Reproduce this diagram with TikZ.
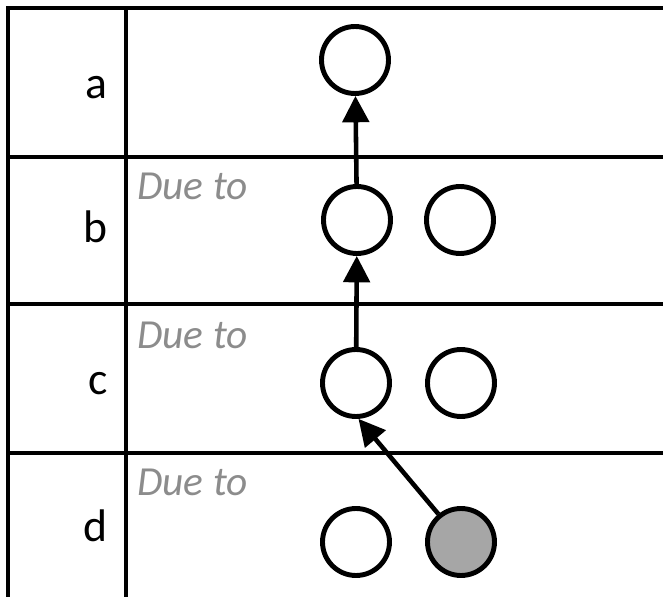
\documentclass[tikz,border=0pt]{standalone}
\usepackage{fontspec}
\setmainfont{Carlito}
\usetikzlibrary{arrows.meta}
\definecolor{duegray}{HTML}{8C8C8C}
\definecolor{causegray}{HTML}{A6A6A6}

\begin{document}
\begin{tikzpicture}[x=0.02cm, y=-0.02cm,
grid/.style={line width=2pt},
event/.style={circle, draw, line width=2.8pt, minimum size=1.34cm, inner sep=0pt},
cause/.style={event, fill=causegray},
link/.style={line width=2.6pt, -{Triangle[length=15pt, width=15pt]}},
rowlabel/.style={anchor=base east, inner sep=0pt, font=\fontsize{26}{26}\selectfont},
dueto/.style={anchor=base west, inner sep=0pt, text=duegray, font=\itshape\fontsize{23.5}{23.5}\selectfont}]
\useasboundingbox (0,0) rectangle (663,597);
% table
\draw[grid] (8,597) -- (8,8) -- (663,8);
\draw[grid] (126,8) -- (126,597);
\foreach \y in {157,304,453}
	\draw[grid] (8,\y) -- (663,\y);
% row labels
\node[rowlabel] (la) at (108,99) {a};
\node[rowlabel] (lb) at (108,243) {b};
\node[rowlabel] (lc) at (108,395) {c};
\node[rowlabel] (ld) at (108,542) {d};
\node[dueto] (db) at (137,200) {Due to};
\node[dueto] (dc) at (137,349) {Due to};
\node[dueto] (dd) at (137,496) {Due to};
% events
\node[event] (a) at (355,60) {};
\node[event] (bl) at (357,220) {};
\node[event] (br) at (460,220) {};
\node[event] (cl) at (356,383) {};
\node[event] (cr) at (461,383) {};
\node[event] (dl) at (356,542) {};
\node[cause] (dr) at (461,542) {};
\draw[link] (bl) -- (a);
\draw[link] (cl) -- (bl);
\draw[link] (dr.129) -- (cl.-86);
\end{tikzpicture}
\end{document}
